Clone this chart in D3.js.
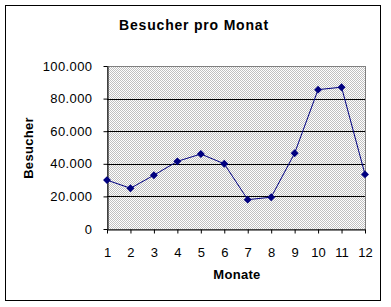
<!DOCTYPE html>
<html>
<head>
<meta charset="utf-8">
<script src="https://cdn.jsdelivr.net/npm/d3@7"></script>
<style>
  body { margin: 0; background: #fff; }
  text { font-family: "Liberation Sans", Arial, sans-serif; }
</style>
</head>
<body>
<svg id="chart" width="391" height="307"></svg>
<script>
const months = [1, 2, 3, 4, 5, 6, 7, 8, 9, 10, 11, 12];
const visitors = [30000, 25000, 33000, 41500, 46000, 40000, 18000, 19500, 46500, 85500, 87000, 33500];
const yTicks = [0, 20000, 40000, 60000, 80000, 100000];

const svg = d3.select("#chart");
const plot = {left: 107, right: 365, top: 66, bottom: 229};

// outer chart border
svg.append("rect")
  .attr("x", 5.5).attr("y", 5.5)
  .attr("width", 375).attr("height", 295)
  .attr("fill", "#fff").attr("stroke", "#000").attr("stroke-width", 1);

// dither pattern for plot area
const defs = svg.append("defs");
const pat = defs.append("pattern")
  .attr("id", "dither").attr("patternUnits", "userSpaceOnUse")
  .attr("width", 2).attr("height", 2);
pat.append("rect").attr("width", 2).attr("height", 2).attr("fill", "#fff");
pat.append("rect").attr("width", 1).attr("height", 1).attr("fill", "#c0c0c0");
pat.append("rect").attr("x", 1).attr("y", 1).attr("width", 1).attr("height", 1).attr("fill", "#c0c0c0");

const x = d3.scalePoint().domain(months).range([plot.left, plot.right]);
const y = d3.scaleLinear().domain([0, 100000]).range([plot.bottom, plot.top]);

const de = d3.formatLocale({decimal: ",", thousands: ".", grouping: [3], currency: ["", " €"]});
const fmt = de.format(",.0f");

svg.append("rect")
  .attr("x", plot.left).attr("y", plot.top)
  .attr("width", plot.right - plot.left).attr("height", plot.bottom - plot.top)
  .attr("fill", "url(#dither)").attr("stroke", "#808080").attr("stroke-width", 1)
  .attr("shape-rendering", "crispEdges");

// gridlines
svg.append("g")
  .selectAll("line")
  .data(yTicks.slice(1, -1)).enter()
  .append("line")
  .attr("x1", plot.left).attr("x2", plot.right)
  .attr("y1", d => Math.round(y(d)) + 0.5).attr("y2", d => Math.round(y(d)) + 0.5)
  .attr("stroke", "#000").attr("stroke-width", 1);

// y axis
const yAxis = svg.append("g")
  .attr("transform", `translate(${plot.left + 0.5},0)`)
  .call(d3.axisLeft(y).tickValues(yTicks).tickFormat(fmt).tickSize(4).tickSizeOuter(0).tickPadding(11));
yAxis.selectAll("text").attr("font-size", 13).attr("letter-spacing", 0.4).attr("fill", "#000");
yAxis.selectAll("line").attr("stroke", "#000");
yAxis.select(".domain").attr("stroke", "#000");

// x axis
const xAxis = svg.append("g")
  .attr("transform", `translate(0,${plot.bottom + 0.5})`)
  .call(d3.axisBottom(x).tickSize(4).tickSizeOuter(0).tickPadding(14));
xAxis.selectAll("text").attr("font-size", 13).attr("fill", "#000");
xAxis.selectAll("line").attr("stroke", "#000");
xAxis.select(".domain").attr("stroke", "#000");

// line and markers
const line = d3.line().x((d, i) => x(months[i])).y(d => y(d));
svg.append("path")
  .datum(visitors)
  .attr("d", line)
  .attr("fill", "none").attr("stroke", "#000080").attr("stroke-width", 1);

svg.append("g")
  .selectAll("path")
  .data(visitors).enter()
  .append("path")
  .attr("d", d3.symbol(d3.symbolDiamond2, 40))
  .attr("transform", (d, i) => `translate(${x(months[i])},${y(d)})`)
  .attr("fill", "#000080");

// titles
svg.append("text")
  .attr("x", 194).attr("y", 30)
  .attr("text-anchor", "middle").attr("font-size", 14).attr("font-weight", "bold")
  .attr("letter-spacing", 0.8)
  .text("Besucher pro Monat");

svg.append("text")
  .attr("transform", "translate(33,148) rotate(-90)")
  .attr("text-anchor", "middle").attr("font-size", 13).attr("font-weight", "bold")
  .attr("letter-spacing", 0.3)
  .text("Besucher");

svg.append("text")
  .attr("x", 237).attr("y", 279)
  .attr("text-anchor", "middle").attr("font-size", 13).attr("font-weight", "bold")
  .attr("letter-spacing", 0.3)
  .text("Monate");
</script>
</body>
</html>
